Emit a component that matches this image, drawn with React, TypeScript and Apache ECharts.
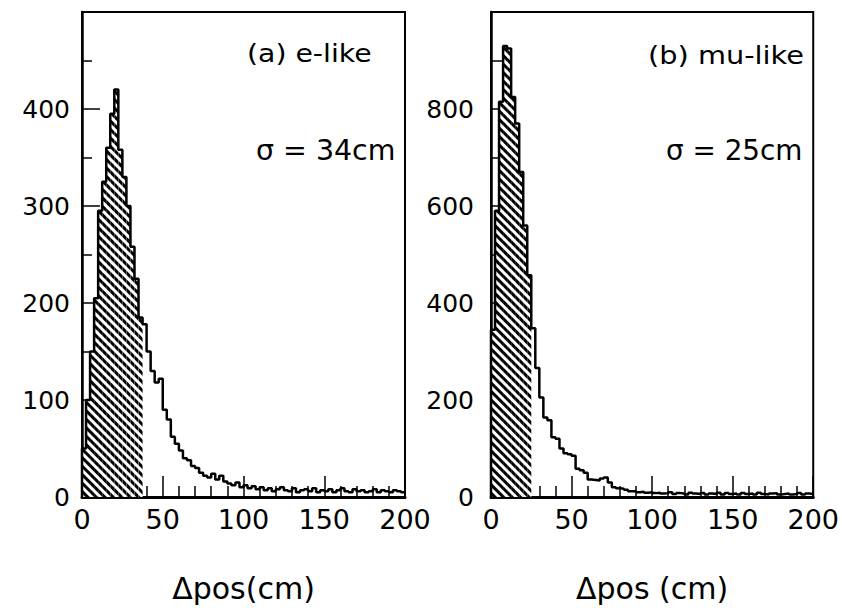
import React, { useEffect, useRef } from "react";
import * as echarts from "echarts";

// Histogram bin width (cm) and range
const BIN_WIDTH = 2.5;
const X_TICKS = [0, 50, 100, 150, 200];

// (a) e-like : counts per 2.5 cm bin, 0–200 cm
const eLikeCounts = [
  50, 100, 150, 205, 295, 325, 360, 395, 420, 358, 330, 300, 258, 225, 185,
  178, 150, 130, 118, 122, 90, 80, 62, 55, 48, 40, 38, 32, 30, 25,
  22, 20, 24, 18, 22, 16, 14, 12, 15, 10, 12, 9, 11, 8, 10,
  7, 9, 6, 8, 10, 7, 6, 9, 5, 7, 8, 6, 9, 5, 7,
  6, 8, 5, 7, 9, 6, 5, 8, 6, 7, 5, 6, 8, 5, 7, 6, 5, 7, 6, 5,
];
// (b) mu-like : counts per 2.5 cm bin, 0–200 cm
const muLikeCounts = [
  345, 590, 815, 930, 925, 825, 770, 670, 560, 457,
  348, 266, 205, 164, 158, 123, 120, 100, 90, 88,
  85, 58, 55, 50, 36, 35, 34, 38, 40, 30,
  20, 18, 17, 15, 12, 12, 10, 11, 9, 10, 8, 9, 7, 8, 10,
  6, 8, 7, 5, 9, 7, 6, 8, 5, 7, 6, 9, 5, 8, 6,
  7, 5, 8, 6, 7, 5, 9, 6, 5, 7, 8, 5, 6, 7, 5, 6, 8, 5, 7, 6,
];
// number of bins hatched (within sigma region)
const eLikeHatchBins = 15;
const muLikeHatchBins = 10;

const panelLabels = ["(a) e-like", "(b) mu-like"];
const sigmaLabels = ["σ = 34cm", "σ = 25cm"];
const xTitles = ["Δpos(cm)", "Δpos (cm)"];

const FONT = "'DejaVu Sans', Verdana, sans-serif";

function outline(counts: number[]) {
  const pts: [number, number][] = [[0, 0]];
  counts.forEach((v, i) => pts.push([i * BIN_WIDTH, v]));
  pts.push([counts.length * BIN_WIDTH, counts[counts.length - 1]]);
  return pts;
}

function hatch(counts: number[], n: number) {
  return counts.map((v, i) => (i < n ? v : "-"));
}

export default function App() {
  const ref = useRef<HTMLDivElement>(null);
  useEffect(() => {
    if (!ref.current) return;
    const chart = echarts.init(ref.current, null, { renderer: "svg" });
    const cats = eLikeCounts.map((_, i) => String(i));
    const decal = {
      symbol: "rect",
      symbolSize: 1,
      dashArrayX: [1, 0],
      dashArrayY: [2.2, 2.4],
      rotation: Math.PI / 4,
      color: "#000",
    };
    const xVal = (gi: number) => ({
      type: "value",
      gridIndex: gi,
      position: "bottom",
      min: X_TICKS[0],
      max: X_TICKS[X_TICKS.length - 1],
      interval: 50,
      axisLine: { show: true, lineStyle: { color: "#000", width: 3 } },
      axisTick: { show: true, inside: true, length: 21, lineStyle: { color: "#000", width: 1.5 } },
      minorTick: { show: true, splitNumber: 5, length: 11, lineStyle: { color: "#000", width: 1.5 } },
      splitLine: { show: false },
      axisLabel: { color: "#000", fontFamily: FONT, fontSize: 27, margin: 9 },
      name: xTitles[gi],
      nameLocation: "middle",
      nameGap: 76,
      nameTextStyle: { color: "#000", fontFamily: FONT, fontSize: 30 },
    });
    const yVal = (gi: number, max: number, interval: number, major: number, minor: number, margin: number) => ({
      type: "value",
      gridIndex: gi,
      min: 0,
      max,
      interval,
      axisLine: { show: true, lineStyle: { color: "#000", width: 2.5 } },
      axisTick: { show: true, inside: true, length: major, lineStyle: { color: "#000", width: 1.5 } },
      minorTick: { show: true, splitNumber: 2, length: minor, lineStyle: { color: "#000", width: 1.5 } },
      splitLine: { show: false },
      axisLabel: { color: "#000", fontFamily: FONT, fontSize: 25, margin, showMaxLabel: false },
    });
    const txt = (x: number, y: number, text: string, size: number, sx: number) => ({
      type: "text",
      x,
      y,
      scaleX: sx,
      style: { text, fontFamily: FONT, fontSize: size, fill: "#000", align: "left", verticalAlign: "middle" },
    });
    const option: any = {
      animation: false,
      aria: { enabled: true, decal: { show: true } },
      backgroundColor: "#fff",
      grid: [
        { left: 82, top: 12, width: 323, height: 488, show: true, borderColor: "#000", borderWidth: 2 },
        { left: 491, top: 12, width: 323, height: 488, show: true, borderColor: "#000", borderWidth: 2 },
      ],
      xAxis: [
        { type: "category", gridIndex: 0, position: "top", data: cats, show: false },
        xVal(0),
        { type: "category", gridIndex: 1, position: "top", data: cats, show: false },
        xVal(1),
      ],
      yAxis: [yVal(0, 500, 100, 18, 10, 12), yVal(1, 1000, 200, 14, 12, 17)],
      series: [
        {
          type: "bar",
          xAxisIndex: 0,
          yAxisIndex: 0,
          data: hatch(eLikeCounts, eLikeHatchBins),
          barCategoryGap: "0%",
          itemStyle: { color: "#fff", decal },
        },
        {
          type: "line",
          xAxisIndex: 1,
          yAxisIndex: 0,
          data: outline(eLikeCounts),
          step: "end",
          symbol: "none",
          lineStyle: { color: "#000", width: 2.5 },
        },
        {
          type: "bar",
          xAxisIndex: 2,
          yAxisIndex: 1,
          data: hatch(muLikeCounts, muLikeHatchBins),
          barCategoryGap: "0%",
          itemStyle: { color: "#fff", decal },
        },
        {
          type: "line",
          xAxisIndex: 3,
          yAxisIndex: 1,
          data: outline(muLikeCounts),
          step: "end",
          symbol: "none",
          lineStyle: { color: "#000", width: 2.5 },
        },
      ],
      graphic: [
        txt(247, 54, panelLabels[0], 24, 1.18),
        txt(256, 150, sigmaLabels[0], 29, 0.98),
        txt(648, 55, panelLabels[1], 24, 1.2),
        txt(666, 150, sigmaLabels[1], 29, 0.96),
      ],
    };
    chart.setOption(option);
    return () => chart.dispose();
  }, []);
  return (
    <div
      ref={ref}
      style={{ position: "fixed", left: 0, top: 0, width: 842, height: 608, background: "#fff" }}
    />
  );
}
